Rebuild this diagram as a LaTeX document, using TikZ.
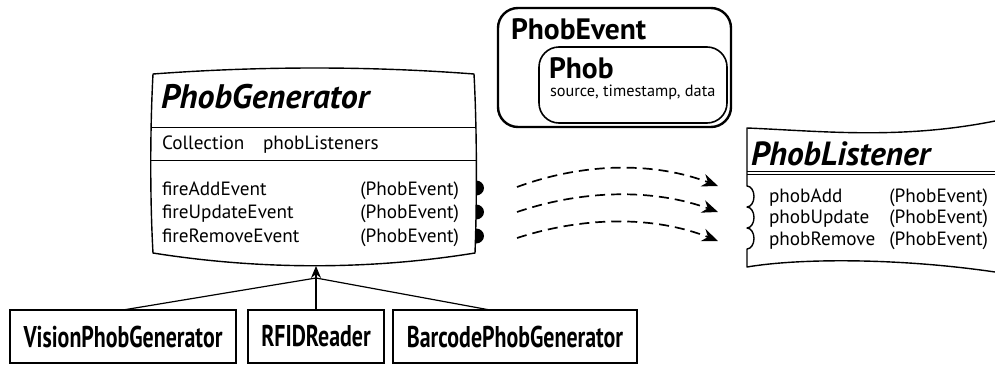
\documentclass[tikz,border=0pt]{standalone}
\usepackage{fontspec}
\setmainfont{PT Sans}
\usetikzlibrary{arrows.meta,calc}
\begin{document}
\begin{tikzpicture}[x=1pt,y=-1pt,
  every node/.style={inner sep=0pt,outer sep=0pt},
  ttl/.style={font=\fontsize{34}{36}\selectfont\bfseries\itshape,anchor=base west},
  meth/.style={font=\fontsize{19.2}{21}\selectfont,anchor=base west},
  evt/.style={font=\fontsize{29.5}{31}\selectfont\bfseries,anchor=base west},
  small/.style={font=\fontsize{16.3}{18}\selectfont,anchor=base west},
  subbox/.style={draw,line width=1.8pt,minimum height=53pt,anchor=north west,
     font=\fontsize{30}{32}\selectfont\bfseries},
  outline/.style={line width=1.4pt,line join=round},
  sep/.style={line width=0.9pt},
  flow/.style={line width=1.7pt,dash pattern=on 10pt off 6pt,
     -{Stealth[length=16pt,width=13pt]}},
  gen/.style={line width=1.2pt},
  bump/.style={fill=black}
]
\useasboundingbox (0,0) rectangle (995,367);

% ---------- PhobGenerator ----------
\draw[outline] (153,74) .. controls (260,66) and (370,66) .. (474,74)
  .. controls (477,130) and (477,200) .. (475,253)
  .. controls (370,270) and (260,270) .. (153,253)
  .. controls (150,200) and (150,130) .. cycle;
\draw[sep] (151,127) -- (476,127);
\draw[sep] (151,160) -- (476,160);
\node[ttl] (gtitle) at (161,108) {PhobGenerator};
\node[meth] (coll) at (162,149) {Collection};
\node[meth] (plist) at (263,149) {phobListeners};
\node[meth] (m1) at (162,195) {fireAddEvent};
\node[meth] (m2) at (162,218) {fireUpdateEvent};
\node[meth] (m3) at (162,242) {fireRemoveEvent};
\node[meth,anchor=base east] (a1) at (459,195) {(PhobEvent)};
\node[meth,anchor=base east] (a2) at (459,218) {(PhobEvent)};
\node[meth,anchor=base east] (a3) at (459,242) {(PhobEvent)};
\fill[bump] (476,180.5) arc[start angle=-90,end angle=90,x radius=8,y radius=7.5] -- cycle;
\fill[bump] (476,204.5) arc[start angle=-90,end angle=90,x radius=8,y radius=7.5] -- cycle;
\fill[bump] (476,228.5) arc[start angle=-90,end angle=90,x radius=8,y radius=7.5] -- cycle;

% ---------- PhobEvent ----------
\draw[line width=2.4pt,rounded corners=20pt] (498,8) rectangle (731,127);
\draw[line width=1.6pt,rounded corners=20pt] (539,47) rectangle (727,123);
\node[evt] (pe) at (511,39) {PhobEvent};
\node[evt] (ph) at (549,78) {Phob};
\node[small] (sd) at (550,96) {source, timestamp, data};

% ---------- PhobListener ----------
\draw[outline] (995,121) .. controls (900,140) and (820,131) .. (747,128)
  -- (747,186)
  arc[start angle=-90,end angle=90,x radius=7,y radius=10.5]
  arc[start angle=-90,end angle=90,x radius=7,y radius=10.5]
  arc[start angle=-90,end angle=90,x radius=7,y radius=10.5]
  -- (747,267) .. controls (800,258) and (900,258) .. (995,272);
\draw[sep] (747,171) -- (995,171);
\draw[sep] (747,174.5) -- (995,174.5);
\node[ttl,font=\fontsize{33.5}{35}\selectfont\bfseries\itshape] (ltitle) at (751,165) {PhobListener};
\node[meth] (l1) at (769,202) {phobAdd};
\node[meth] (l2) at (769,223) {phobUpdate};
\node[meth] (l3) at (769,245) {phobRemove};
\node[meth,anchor=base east] (b1) at (988,202) {(PhobEvent)};
\node[meth,anchor=base east] (b2) at (988,223) {(PhobEvent)};
\node[meth,anchor=base east] (b3) at (988,245) {(PhobEvent)};

% ---------- event flows ----------
\coordinate (s1) at (517,187); \coordinate (e1) at (718,186);
\coordinate (s2) at (517,212); \coordinate (e2) at (718,212);
\coordinate (s3) at (517,238); \coordinate (e3) at (718,241);
\draw[flow] (s1) .. controls (585,162) and (655,162) .. (e1);
\draw[flow] (s2) .. controls (585,189) and (655,189) .. (e2);
\draw[flow] (s3) .. controls (585,216) and (655,216) .. (e3);

% ---------- subclasses ----------
\node[subbox,minimum width=226pt] (vision) at (10,310) {\scalebox{0.73}[1]{VisionPhobGenerator}};
\node[subbox,minimum width=136pt] (rfid) at (248,310) {\scalebox{0.73}[1]{RFIDReader}};
\node[subbox,minimum width=244pt] (barcode) at (393,310) {\scalebox{0.73}[1]{BarcodePhobGenerator}};
\coordinate (junction) at (316,278);
\coordinate (gbottom) at (316,266);
\coordinate (btop) at ($(barcode.north west)+(97,0)$);
\draw[gen] (vision.north) -- (junction);
\draw[gen] (btop) -- (junction);
\draw[gen] (rfid.north) -- (junction);
\draw[gen,-{Stealth[length=12pt,width=10pt]}] (junction) -- (gbottom);
\end{tikzpicture}
\end{document}
